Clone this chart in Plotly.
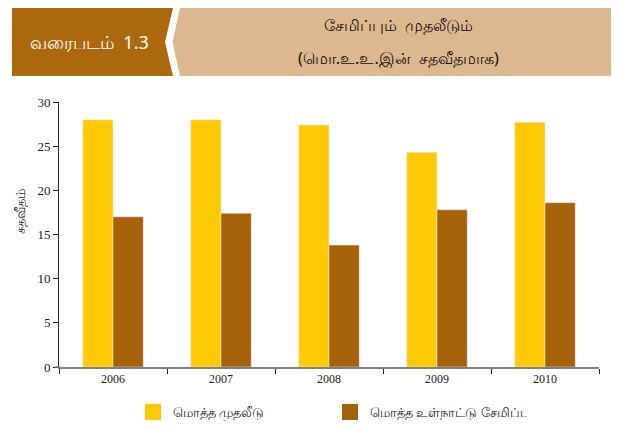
import plotly.graph_objects as go

years = ["2006", "2007", "2008", "2009", "2010"]
investment = [28.0, 28.0, 27.4, 24.3, 27.7]
savings = [17.0, 17.4, 13.8, 17.8, 18.6]
series_names = ["மொத்த முதலீடு", "மொத்த உள்நாட்டு சேமிப்பு"]
yellow = "#FFC905"
brown = "#A5620B"

# the page body has an 8px default margin, so the figure is drawn 8px smaller
OFF = 8
W, H = 619 - OFF, 432 - OFF
# plot area in screen pixels (reference): x 59..599, y 102..367
L, R, T, B = 59 - OFF, 619 - 599, 102 - OFF, 432 - 367
pw, ph = W - L - R, H - T - B


def px(x):
    return (x - OFF - L) / pw


def py(y):
    return (H - B - (y - OFF)) / ph


fig = go.Figure()
fig.add_trace(go.Bar(x=years, y=investment, marker_color=yellow, name=series_names[0], showlegend=False))
fig.add_trace(go.Bar(x=years, y=savings, marker_color=brown, name=series_names[1], showlegend=False))
for nm, col in zip(series_names, [yellow, brown]):
    fig.add_trace(go.Scatter(x=[None], y=[None], mode="markers", name=nm,
                             marker=dict(symbol="square", size=16, color=col)))


def poly(pts):
    return "M" + " L".join(f"{px(a)},{py(b)}" for a, b in pts) + " Z"


shapes = [
    dict(type="path", xref="paper", yref="paper", layer="above",
         path=poly([(12, 8), (173, 8), (165, 42), (173, 76), (12, 76)]),
         fillcolor="#AB680D", line=dict(width=0)),
    dict(type="path", xref="paper", yref="paper", layer="above",
         path=poly([(180, 8), (612, 8), (612, 76), (180, 76), (172.5, 42)]),
         fillcolor="#DDB78D", line=dict(width=0)),
    # x-axis baseline extends slightly left of the y axis
    dict(type="line", xref="paper", yref="paper", layer="above",
         x0=px(55), x1=px(60), y0=0, y1=0, line=dict(color="#808080", width=1.5)),
]

annotations = [
    dict(text="வரைபடம்  1.3", x=px(89), y=py(42), xref="paper", yref="paper",
         xanchor="center", yanchor="middle",
         showarrow=False, font=dict(size=18, color="white", family="Noto Sans, sans-serif")),
    dict(text="சேமிப்பும்  முதலீடும்", x=px(398), y=py(25), xref="paper", yref="paper",
         xanchor="center", yanchor="middle",
         showarrow=False, font=dict(size=16, color="#111", family="Noto Sans, sans-serif")),
    dict(text="(மொ.உ.உ.இன்  சதவீதமாக)", x=px(398), y=py(58), xref="paper", yref="paper",
         xanchor="center", yanchor="middle",
         showarrow=False, font=dict(size=16, color="#111", family="Noto Sans, sans-serif")),
    dict(text="சதவீதம்", x=px(20), y=py(212), xref="paper", yref="paper",
         xanchor="center", yanchor="middle", textangle=-90,
         showarrow=False, font=dict(size=13, color="#222", family="Noto Sans, sans-serif")),
]

fig.update_layout(
    width=W, height=H,
    margin=dict(l=L, r=R, t=T, b=B, autoexpand=False),
    paper_bgcolor="white", plot_bgcolor="white",
    barmode="group", bargap=0.44, bargroupgap=0,
    shapes=shapes, annotations=annotations,
    font=dict(family="Liberation Serif, serif", color="#222"),
    legend=dict(orientation="h", xref="container", yref="container",
                x=(135 - OFF - 2) / W, y=1 - (412 - OFF) / H, xanchor="left", yanchor="middle",
                entrywidth=152, entrywidthmode="pixels",
                font=dict(size=13, family="Noto Sans, sans-serif", color="#222")),
    xaxis=dict(showline=True, linecolor="#808080", linewidth=1.5, ticks="outside",
               tickson="boundaries", ticklen=5, tickcolor="#222", automargin=False,
               tickfont=dict(size=12, family="Liberation Serif, serif", color="#222"),
               showgrid=False, zeroline=False),
    yaxis=dict(range=[0, 30], dtick=5, showline=True, linecolor="#222", linewidth=1,
               ticks="outside", ticklen=5, tickcolor="#222", showgrid=False, zeroline=False,
               automargin=False,
               tickfont=dict(size=13, family="Liberation Serif, serif", color="#222")),
)

fig.write_html("out.html")
